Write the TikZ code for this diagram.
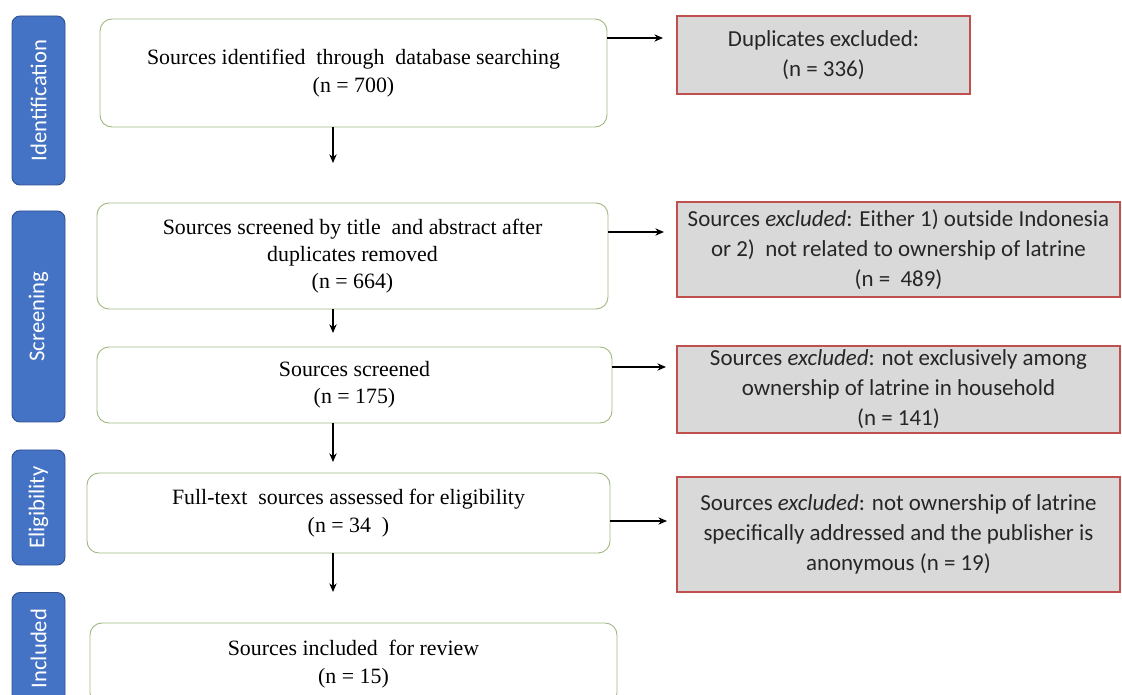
\documentclass[tikz,border=0pt]{standalone}
\usepackage{fontspec}
\setmainfont{Liberation Serif}
\newfontfamily\calfont{Carlito}
\usetikzlibrary{arrows.meta}
\definecolor{boxgreen}{RGB}{160,185,128}
\definecolor{exgrey}{RGB}{217,217,217}
\definecolor{exred}{RGB}{192,80,77}
\definecolor{phaseblue}{RGB}{68,114,196}
\definecolor{phaseline}{RGB}{47,82,143}
\tikzset{
    %Define standard arrow tip
    >={Stealth[length=6.5pt,width=5.5pt]},
    %Define style for the phase labels on the left
    phase/.style={
           rectangle,
           rounded corners=6pt,
           draw=phaseline, fill=phaseblue, line width=0.7pt,
           text=white, rotate=90,
           inner sep=0pt,
           minimum height=39.75pt,
           font=\calfont\fontsize{17}{20}\selectfont},
    %Define style for the record boxes
    srcbox/.style={
           rectangle,
           rounded corners=9pt,
           draw=boxgreen, line width=0.7pt,
           inner sep=0pt,
           align=center,
           font=\fontsize{16.4}{20.5}\selectfont},
    %Define style for the exclusion boxes
    exbox/.style={
           rectangle,
           draw=exred, fill=exgrey, line width=0.8pt,
           inner sep=0pt,
           align=center,
           text=black!85,
           font=\calfont\fontsize{17.2}{22.5}\selectfont},
    % Define arrow style
    pil/.style={
           ->,
           line width=0.8pt}
}
\begin{document}
\begin{tikzpicture}[x=0.75pt,y=-0.75pt]
\useasboundingbox (0,0) rectangle (1122,695);

% phases
\node[phase, minimum width=126.75pt] (ident) at (38.5,100.5) {Identification};
\node[phase, minimum width=158.25pt] (screen) at (38.5,316.5) {Screening};
\node[phase, minimum width=86.25pt] (elig) at (38.5,507.5) {Eligibility};
\node[phase, minimum width=84pt] (incl) at (38.5,648.5) {Included};

% records
\node[srcbox, minimum width=380.25pt, minimum height=81pt] (found) at (353.5,73)
  {Sources identified\ \ through\ \ database searching\\(n = 700)};
\node[srcbox, minimum width=383.25pt, minimum height=79.5pt] (titles) at (352.5,256)
  {Sources screened by title\ \ and abstract after\\duplicates removed\\(n = 664)};
\node[srcbox, minimum width=386.25pt, minimum height=57pt] (screened) at (354.5,385)
  {Sources screened\\(n = 175)};
\node[srcbox, minimum width=392.25pt, minimum height=60pt] (fulltext) at (348.5,513)
  {Full-text\ \ sources assessed for eligibility\\(n = 34\ \ )};
\node[srcbox, minimum width=395.25pt, minimum height=61.5pt] (review) at (353.5,664)
  {Sources included\ \ for review\\(n = 15)};

% exclusions
\node[exbox, minimum width=219.75pt, minimum height=58.5pt] (dupl) at (823.5,55)
  {Duplicates excluded:\\(n = 336)};
\node[exbox, minimum width=332.25pt, minimum height=71.25pt] (outside) at (898.5,249.5)
  {Sources \emph{excluded}: Either 1) outside Indonesia\\or 2)\ \ not related to ownership of latrine\\(n =\ \ 489)};
\node[exbox, minimum width=332.25pt, minimum height=65.25pt] (household) at (898.5,389.5)
  {Sources \emph{excluded}: not exclusively among\\ownership of latrine in\ household\\(n = 141)};
\node[exbox, minimum width=332.25pt, minimum height=86.25pt] (anonym) at (898.5,534.5)
  {Sources \emph{excluded}: not ownership of latrine\\specifically addressed and the publisher is\\anonymous (n = 19)};

% arrow ends
\coordinate (d1) at (333,163);
\coordinate (d2) at (333,333);
\coordinate (d3) at (333,462);
\coordinate (d4) at (333,592);
\coordinate (r1) at (663,38);
\coordinate (r2) at (664,232);
\coordinate (r3) at (666,367);
\coordinate (r4) at (667,521);

\draw[pil] (found.south -| d1) -- (d1);
\draw[pil] (titles.south -| d2) -- (d2);
\draw[pil] (screened.south -| d3) -- (d3);
\draw[pil] (fulltext.south -| d4) -- (d4);

\draw[pil] (found.east |- r1) -- (r1);
\draw[pil] (titles.east |- r2) -- (r2);
\draw[pil] (screened.east |- r3) -- (r3);
\draw[pil] (fulltext.east |- r4) -- (r4);
\end{tikzpicture}
\end{document}
